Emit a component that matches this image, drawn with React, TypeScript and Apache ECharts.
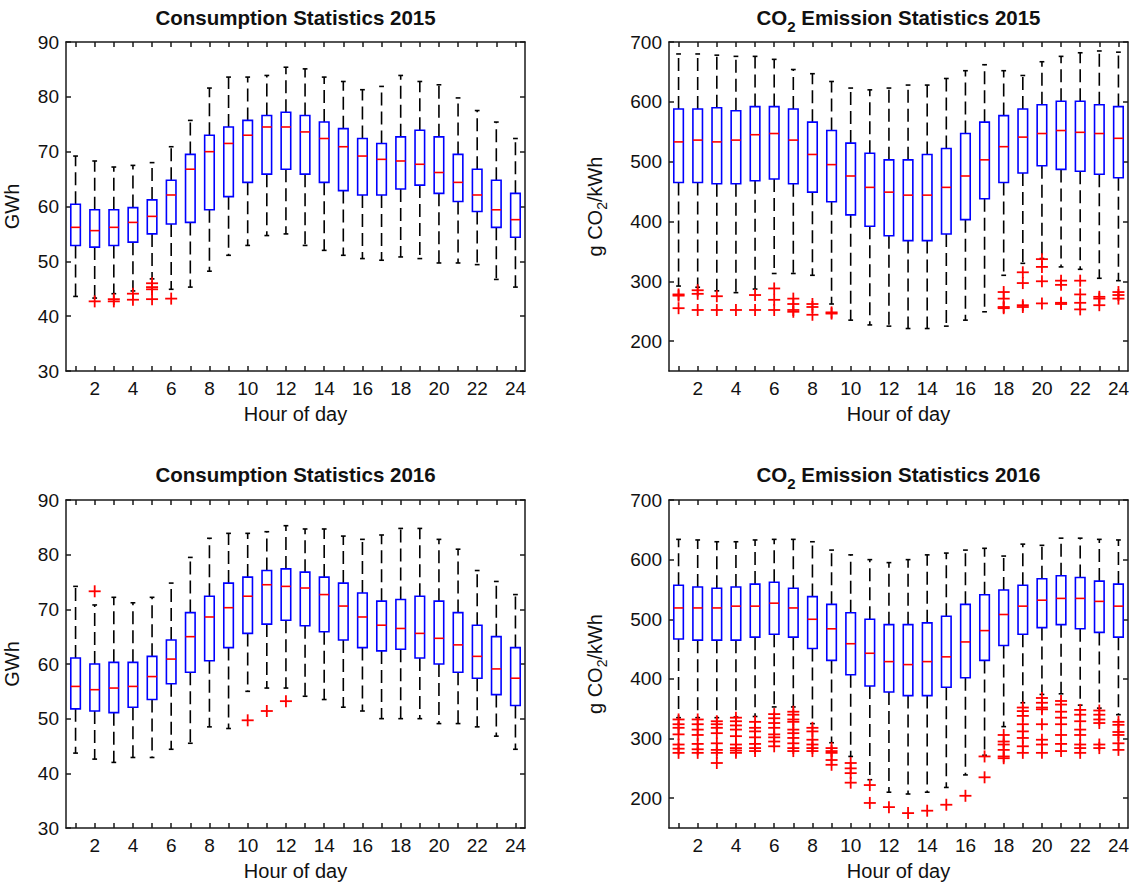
import React, { useEffect, useRef } from "react";
import * as echarts from "echarts";

// ---------- categories & ticks ----------
const hours = [1, 2, 3, 4, 5, 6, 7, 8, 9, 10, 11, 12, 13, 14, 15, 16, 17, 18, 19, 20, 21, 22, 23, 24];
const hourLabels = [2, 4, 6, 8, 10, 12, 14, 16, 18, 20, 22, 24];
const consTicks = [30, 40, 50, 60, 70, 80, 90];
const co2Ticks = [200, 300, 400, 500, 600, 700];

// ---------- Consumption 2015 (GWh) ----------
const cons15Low = [43.6, 43.3, 44.1, 44.6, 46.8, 44.9, 45.3, 48.2, 51.1, 52.9, 54.7, 55.0, 52.9, 52.0, 51.1, 50.5, 50.2, 50.8, 50.5, 49.7, 49.7, 49.4, 46.7, 45.3];
const cons15Q1 = [52.9, 52.6, 52.9, 53.5, 55.0, 56.8, 57.1, 59.4, 61.8, 64.4, 65.9, 66.8, 65.9, 64.4, 62.9, 62.1, 62.1, 63.2, 63.9, 62.4, 60.9, 59.1, 56.2, 54.4];
const cons15Med = [56.2, 55.6, 56.2, 57.1, 58.2, 62.1, 66.8, 70.0, 71.5, 73.0, 74.5, 74.5, 73.6, 72.4, 70.9, 69.2, 68.6, 68.3, 67.7, 66.2, 64.4, 62.1, 59.4, 57.6];
const cons15Q3 = [60.4, 59.4, 59.4, 59.8, 61.2, 64.8, 69.5, 73.0, 74.5, 75.7, 76.6, 77.2, 76.6, 75.4, 74.2, 72.4, 71.5, 72.7, 73.9, 72.7, 69.5, 66.8, 64.8, 62.4];
const cons15High = [69.2, 68.3, 67.2, 67.5, 68.0, 70.9, 75.7, 81.6, 83.6, 83.6, 83.9, 85.4, 85.1, 83.6, 82.8, 81.3, 81.9, 83.9, 82.8, 82.2, 79.8, 77.5, 75.4, 72.4];
const cons15Out: number[][] = [[], [42.7], [43.1, 42.7], [44.1, 43.0], [46.0, 45.3, 44.9, 43.1], [43.2], [], [], [], [], [], [], [], [], [], [], [], [], [], [], [], [], [], []];

// ---------- CO2 2015 (g CO2/kWh) ----------
const co215Low = [292, 290, 284, 281, 287, 313, 313, 310, 262, 235, 227, 225, 221, 221, 225, 235, 249, 310, 330, 338, 324, 320, 305, 301];
const co215Q1 = [465, 465, 463, 463, 468, 471, 463, 449, 433, 411, 392, 376, 368, 368, 379, 403, 438, 465, 481, 493, 487, 484, 479, 473];
const co215Med = [533, 536, 533, 536, 545, 547, 536, 512, 495, 476, 457, 449, 444, 444, 457, 476, 503, 525, 541, 547, 552, 549, 547, 539];
const co215Q3 = [588, 588, 590, 585, 592, 592, 588, 566, 552, 531, 514, 503, 503, 512, 522, 547, 566, 577, 588, 595, 601, 601, 595, 592];
const co215High = [680, 680, 678, 676, 676, 671, 654, 647, 634, 623, 620, 623, 628, 628, 639, 652, 662, 652, 644, 667, 676, 682, 685, 683];
const co215Out: number[][] = [
  [278, 276, 255], [285, 279, 252], [275, 252], [252], [277, 252], [288, 269, 252], [271, 262, 252, 249], [262, 257, 244], [248, 246],
  [], [], [], [], [], [], [], [],
  [282, 271, 257, 255], [315, 297, 260, 257], [337, 324, 300, 263], [301, 294, 264, 262], [301, 278, 264, 253], [274, 271, 260], [282, 277, 271],
];

// ---------- Consumption 2016 (GWh) ----------
const cons16Low = [43.7, 42.6, 42.0, 42.9, 42.9, 44.4, 45.5, 48.5, 48.2, 55.0, 55.6, 55.6, 54.1, 53.5, 52.1, 51.4, 50.0, 50.0, 50.0, 49.1, 49.1, 48.5, 46.8, 44.4];
const cons16Q1 = [51.8, 51.4, 51.1, 52.1, 53.5, 56.4, 58.5, 60.6, 63.0, 65.6, 67.3, 68.0, 67.0, 65.9, 64.4, 63.0, 62.4, 62.7, 61.1, 60.0, 58.5, 57.4, 54.4, 52.4];
const cons16Med = [55.9, 55.3, 55.6, 55.9, 57.7, 60.9, 65.0, 68.6, 70.3, 72.4, 74.5, 74.2, 73.9, 72.7, 70.6, 68.6, 67.1, 66.5, 65.6, 64.7, 63.5, 61.4, 59.1, 57.4];
const cons16Q3 = [61.1, 60.0, 60.3, 60.3, 61.4, 64.4, 69.4, 72.4, 74.8, 75.9, 77.1, 77.4, 76.8, 75.9, 74.8, 73.0, 71.5, 71.8, 72.4, 71.5, 69.4, 67.1, 65.0, 63.0];
const cons16High = [74.2, 70.8, 72.2, 71.2, 72.2, 74.8, 79.5, 83.0, 83.9, 83.9, 84.2, 85.3, 84.7, 84.7, 83.4, 82.8, 83.6, 84.8, 84.8, 82.8, 81.0, 77.1, 75.1, 72.7];
const cons16Out: number[][] = [[], [73.3], [], [], [], [], [], [], [], [49.7], [51.4], [53.2], [], [], [], [], [], [], [], [], [], [], [], []];

// ---------- CO2 2016 (g CO2/kWh) ----------
const co216Low = [335, 335, 335, 336, 337, 353, 353, 325, 293, 270, 231, 210, 207, 210, 218, 239, 272, 320, 360, 374, 375, 356, 351, 340];
const co216Q1 = [467, 465, 465, 465, 470, 475, 470, 451, 431, 407, 388, 378, 372, 372, 386, 402, 431, 456, 475, 486, 491, 484, 478, 470];
const co216Med = [519, 519, 519, 522, 522, 527, 519, 500, 484, 459, 443, 429, 424, 429, 437, 462, 481, 508, 522, 532, 535, 535, 530, 522];
const co216Q3 = [557, 554, 552, 554, 559, 562, 552, 538, 525, 511, 500, 491, 491, 494, 505, 525, 541, 549, 557, 568, 573, 570, 564, 559];
const co216High = [634, 633, 630, 630, 633, 634, 634, 630, 616, 608, 600, 595, 600, 608, 611, 616, 619, 606, 626, 624, 636, 636, 634, 633];
const co216Out: number[][] = [
  [332, 324, 318, 307, 290, 283, 276],
  [332, 324, 315, 306, 291, 282, 276],
  [329, 324, 318, 309, 292, 281, 276, 259],
  [335, 329, 322, 315, 304, 290, 284, 280, 276],
  [328, 318, 312, 302, 291, 284, 279],
  [341, 334, 326, 318, 307, 302, 295, 287],
  [345, 340, 332, 328, 315, 309, 301, 292, 284, 279],
  [318, 312, 298, 290, 284, 279],
  [284, 279, 276, 264, 256],
  [259, 250, 242, 226],
  [222, 192],
  [185],
  [175],
  [179],
  [189],
  [204],
  [270, 235],
  [306, 295, 290, 281, 270, 267],
  [352, 346, 338, 324, 312, 301, 287, 276],
  [368, 360, 352, 349, 324, 298, 290, 276],
  [363, 357, 345, 335, 324, 306, 291, 279],
  [348, 340, 329, 315, 306, 290, 284, 276],
  [347, 340, 332, 326, 290, 284],
  [328, 323, 311, 306, 292, 281],
];

const FONT = "'Liberation Sans', Arial, Helvetica, sans-serif";
const TXT = "#111111";
const AXIS = "#1a1a1a";

const boxRows = (lo: number[], q1: number[], md: number[], q3: number[], hi: number[]) =>
  hours.map((h, i) => [h, lo[i], q1[i], md[i], q3[i], hi[i]]);
const outRows = (out: number[][]) => {
  const rows: number[][] = [];
  hours.forEach((h, i) => out[i].forEach((v) => rows.push([h, v])));
  return rows;
};

const renderBox = (_params: any, api: any) => {
  const x = api.value(0);
  const pLo = api.coord([x, api.value(1)]);
  const pQ1 = api.coord([x, api.value(2)]);
  const pMd = api.coord([x, api.value(3)]);
  const pQ3 = api.coord([x, api.value(4)]);
  const pHi = api.coord([x, api.value(5)]);
  const unit = api.size([1, 0])[0];
  const hw = unit * 0.25;
  const cw = unit * 0.125;
  const cx = pMd[0];
  const wStyle = { stroke: "#000", lineWidth: 1.6, lineDash: [13, 6], fill: null };
  const cStyle = { stroke: "#000", lineWidth: 1.6, fill: null };
  return {
    type: "group",
    children: [
      { type: "line", shape: { x1: cx, y1: pQ3[1], x2: cx, y2: pHi[1] }, style: wStyle },
      { type: "line", shape: { x1: cx, y1: pQ1[1], x2: cx, y2: pLo[1] }, style: wStyle },
      { type: "line", shape: { x1: cx - cw, y1: pHi[1], x2: cx + cw, y2: pHi[1] }, style: cStyle },
      { type: "line", shape: { x1: cx - cw, y1: pLo[1], x2: cx + cw, y2: pLo[1] }, style: cStyle },
      {
        type: "rect",
        shape: { x: cx - hw, y: pQ3[1], width: 2 * hw, height: pQ1[1] - pQ3[1] },
        style: { fill: "none", stroke: "#0000ff", lineWidth: 1.6 },
      },
      { type: "line", shape: { x1: cx - hw, y1: pMd[1], x2: cx + hw, y2: pMd[1] }, style: { stroke: "#ff0000", lineWidth: 1.6 } },
    ],
  };
};

const renderPlus = (_params: any, api: any) => {
  const p = api.coord([api.value(0), api.value(1)]);
  const s = 6;
  const st = { stroke: "#ff0000", lineWidth: 1.8 };
  return {
    type: "group",
    children: [
      { type: "line", shape: { x1: p[0] - s, y1: p[1], x2: p[0] + s, y2: p[1] }, style: st },
      { type: "line", shape: { x1: p[0], y1: p[1] - s, x2: p[0], y2: p[1] + s }, style: st },
    ],
  };
};

const grids = [
  { left: 66, top: 42, width: 459, height: 329 },
  { left: 669, top: 42, width: 459, height: 329 },
  { left: 66, top: 500, width: 459, height: 328 },
  { left: 669, top: 500, width: 459, height: 328 },
];

const labelStyle = { fontSize: 19, color: TXT, fontFamily: FONT };
const lineStyle = { color: AXIS, width: 1.5 };

const makeX = (gi: number) => [
  {
    gridIndex: gi,
    type: "value",
    min: 0.5,
    max: 24.5,
    position: "bottom",
    axisLine: { show: true, onZero: false, lineStyle },
    axisTick: { show: true, inside: true, length: 5, customValues: hours, lineStyle },
    axisLabel: { show: true, customValues: hourLabels, margin: 8, ...labelStyle },
    splitLine: { show: false },
    name: "Hour of day",
    nameLocation: "middle",
    nameGap: 33,
    nameTextStyle: { fontSize: 20, color: TXT, fontFamily: FONT },
  },
  {
    gridIndex: gi,
    type: "value",
    min: 0.5,
    max: 24.5,
    position: "top",
    axisLine: { show: true, onZero: false, lineStyle },
    axisTick: { show: true, inside: true, length: 5, customValues: hours, lineStyle },
    axisLabel: { show: false },
    splitLine: { show: false },
  },
];

const makeY = (gi: number, min: number, max: number, ticks: number[], name: string, nameGap: number, rich?: any) => [
  {
    gridIndex: gi,
    type: "value",
    min,
    max,
    position: "left",
    axisLine: { show: true, onZero: false, lineStyle },
    axisTick: { show: true, inside: true, length: 5, customValues: ticks, lineStyle },
    axisLabel: { show: true, customValues: ticks, margin: 7, ...labelStyle },
    splitLine: { show: false },
    name,
    nameLocation: "middle",
    nameRotate: 90,
    nameGap,
    nameTextStyle: { fontSize: 20, color: TXT, fontFamily: FONT, ...(rich ? { rich } : {}) },
  },
  {
    gridIndex: gi,
    type: "value",
    min,
    max,
    position: "right",
    axisLine: { show: true, onZero: false, lineStyle },
    axisTick: { show: true, inside: true, length: 5, customValues: ticks, lineStyle },
    axisLabel: { show: false },
    splitLine: { show: false },
  },
];

const co2NameRich = {
  t: { fontSize: 20, color: TXT, fontFamily: FONT, lineHeight: 24, verticalAlign: "top" },
  s: { fontSize: 14, color: TXT, fontFamily: FONT, verticalAlign: "bottom" },
};

const TITLE_FS = 20.5;
const titleRich = {
  t: { fontSize: TITLE_FS, fontWeight: "bold", fill: TXT, color: TXT, fontFamily: FONT, lineHeight: 27, verticalAlign: "top" },
  s: { fontSize: 15, fontWeight: "bold", fill: TXT, color: TXT, fontFamily: FONT, verticalAlign: "bottom" },
};

const panels = [
  { rows: boxRows(cons15Low, cons15Q1, cons15Med, cons15Q3, cons15High), out: outRows(cons15Out) },
  { rows: boxRows(co215Low, co215Q1, co215Med, co215Q3, co215High), out: outRows(co215Out) },
  { rows: boxRows(cons16Low, cons16Q1, cons16Med, cons16Q3, cons16High), out: outRows(cons16Out) },
  { rows: boxRows(co216Low, co216Q1, co216Med, co216Q3, co216High), out: outRows(co216Out) },
];

export default function App() {
  const ref = useRef<HTMLDivElement>(null);
  useEffect(() => {
    document.body.style.margin = "0";
    if (!ref.current) return;
    const chart = echarts.init(ref.current, undefined, { renderer: "svg" });

    const xAxis = [...makeX(0), ...makeX(1), ...makeX(2), ...makeX(3)];
    const yAxis = [
      ...makeY(0, 30, 90, consTicks, "GWh", 44),
      ...makeY(1, 150, 700, co2Ticks, "{t|g CO}{s|2}{t|/kWh}", 60, co2NameRich),
      ...makeY(2, 30, 90, consTicks, "GWh", 44),
      ...makeY(3, 150, 700, co2Ticks, "{t|g CO}{s|2}{t|/kWh}", 60, co2NameRich),
    ];

    const series: any[] = [];
    panels.forEach((p, gi) => {
      series.push({
        type: "custom",
        xAxisIndex: gi * 2,
        yAxisIndex: gi * 2,
        renderItem: renderBox,
        data: p.rows,
        encode: { x: 0, y: [1, 2, 3, 4, 5] },
        clip: false,
        silent: true,
      });
      series.push({
        type: "custom",
        xAxisIndex: gi * 2,
        yAxisIndex: gi * 2,
        renderItem: renderPlus,
        data: p.out,
        encode: { x: 0, y: 1 },
        clip: false,
        silent: true,
      });
    });

    const plainTitle = (text: string, x: number, y: number) => ({
      type: "text",
      style: { text, x, y, align: "center", verticalAlign: "middle", fontSize: TITLE_FS, fontWeight: "bold", fill: TXT, fontFamily: FONT },
    });
    const co2Title = (year: string, x: number, y: number) => ({
      type: "text",
      style: {
        text: "{t|CO}{s|2}{t| Emission Statistics " + year + "}",
        rich: titleRich,
        x,
        y,
        align: "center",
        verticalAlign: "middle",
        fontSize: TITLE_FS,
        fontWeight: "bold",
        fill: TXT,
        fontFamily: FONT,
      },
    });

    chart.setOption({
      animation: false,
      backgroundColor: "#ffffff",
      grid: grids.map((g) => ({ ...g, outerBoundsMode: "none", containLabel: false })),
      xAxis,
      yAxis,
      series,
      graphic: [
        plainTitle("Consumption Statistics 2015", 295.5, 17),
        co2Title("2015", 898.5, 20),
        plainTitle("Consumption Statistics 2016", 295.5, 474),
        co2Title("2016", 898.5, 477),
      ],
    });
    return () => chart.dispose();
  }, []);
  return <div ref={ref} style={{ width: 1129, height: 886 }} />;
}
